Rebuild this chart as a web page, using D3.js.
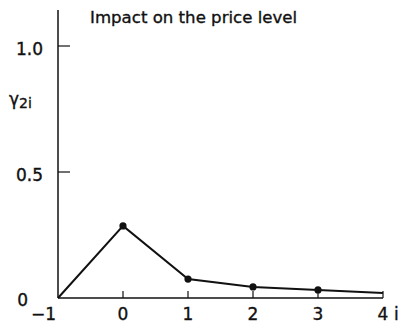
<!DOCTYPE html>
<html>
<head>
<meta charset="utf-8">
<script src="https://cdn.jsdelivr.net/npm/d3@7"></script>
<style>
  html, body { margin: 0; padding: 0; background: #fff; }
  svg { display: block; font-family: "DejaVu Sans", "Liberation Sans", Arial, sans-serif; }
  text { stroke: #111; stroke-width: 0.35px; }
</style>
</head>
<body>
<svg id="chart" width="402" height="323"></svg>
<script>
// Lag index i and the response of the price level gamma_2i
const lags = [-1, 0, 1, 2, 3, 4];
const gamma2 = [0, 0.286, 0.075, 0.044, 0.032, 0.02];
const markedLags = [0, 1, 2, 3];          // lags drawn with a dot
const xTicks = [-1, 0, 1, 2, 3, 4];
const xTickLabels = ["\u22121", "0", "1", "2", "3", "4"];
const yTicks = [0.5, 1.0];
const yTickLabels = ["0.5", "1.0"];

const svg = d3.select("#chart");
const x = d3.scaleLinear().domain([-1, 4]).range([58, 383]);
const y = d3.scaleLinear().domain([0, 1]).range([298, 46]);

const ink = "#111";

// vertical axis
svg.append("line")
  .attr("x1", x(-1)).attr("x2", x(-1))
  .attr("y1", 10).attr("y2", y(0))
  .attr("stroke", ink).attr("stroke-width", 1.5);

// horizontal axis
svg.append("line")
  .attr("x1", x(-1)).attr("x2", x(4))
  .attr("y1", y(0)).attr("y2", y(0))
  .attr("stroke", ink).attr("stroke-width", 1.5);

// y ticks pointing into the plot
yTicks.forEach((t, i) => {
  svg.append("line")
    .attr("x1", x(-1)).attr("x2", x(-1) + 12)
    .attr("y1", y(t)).attr("y2", y(t))
    .attr("stroke", ink).attr("stroke-width", 1.2);
  svg.append("text")
    .attr("x", 43).attr("y", y(t) + 9)
    .attr("text-anchor", "end")
    .attr("font-size", 17)
    .attr("fill", ink)
    .text(yTickLabels[i]);
});
svg.append("text")
  .attr("x", 28).attr("y", y(0) + 8)
  .attr("text-anchor", "end")
  .attr("font-size", 17)
  .attr("fill", ink)
  .text("0");

// x ticks pointing up
xTicks.slice(1).forEach(t => {
  svg.append("line")
    .attr("x1", x(t)).attr("x2", x(t))
    .attr("y1", y(0)).attr("y2", y(0) - 7)
    .attr("stroke", ink).attr("stroke-width", 1.2);
});
xTicks.forEach((t, i) => {
  svg.append("text")
    .attr("x", t === -1 ? x(t) - 2 : x(t))
    .attr("y", 320)
    .attr("text-anchor", t === -1 ? "end" : "middle")
    .attr("font-size", 17)
    .attr("fill", ink)
    .text(xTickLabels[i]);
});
svg.append("text")
  .attr("x", 394).attr("y", 320)
  .attr("font-size", 17)
  .attr("fill", ink)
  .text("i");

// response line
const pts = lags.map((l, i) => [l, gamma2[i]]);
svg.append("path")
  .attr("d", d3.line().x(d => x(d[0])).y(d => y(d[1]))(pts))
  .attr("fill", "none")
  .attr("stroke", ink).attr("stroke-width", 2);

svg.selectAll("circle.dot")
  .data(pts.filter(d => markedLags.includes(d[0])))
  .join("circle")
  .attr("class", "dot")
  .attr("cx", d => x(d[0])).attr("cy", d => y(d[1]))
  .attr("r", 3.6)
  .attr("fill", ink);

// title
svg.append("text")
  .attr("x", 90).attr("y", 23)
  .attr("font-size", 16.6)
  .attr("fill", ink)
  .text("Impact on the price level");

// y label gamma_2i
const yl = svg.append("text")
  .attr("x", 9).attr("y", 105)
  .attr("font-size", 17)
  .attr("fill", ink);
yl.append("tspan").text("\u03B3");
yl.append("tspan").attr("font-size", 14).attr("dy", 3).text("2i");
</script>
</body>
</html>
